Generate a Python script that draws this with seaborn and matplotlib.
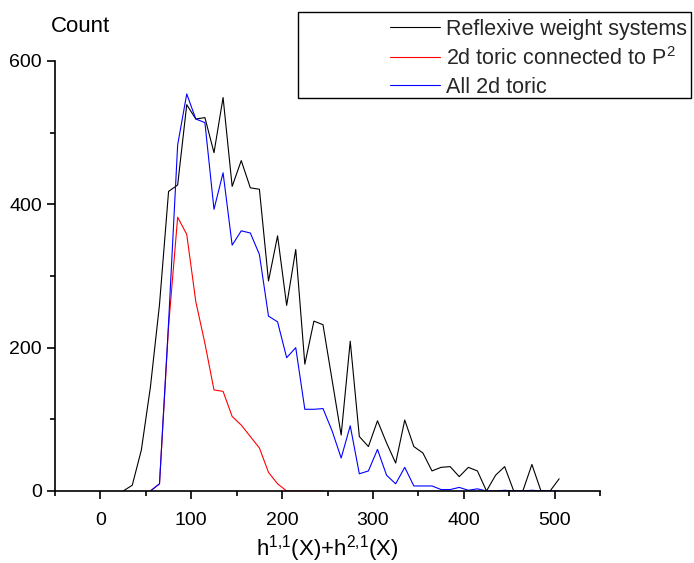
import matplotlib

matplotlib.use("Agg")
import matplotlib.pyplot as plt
from matplotlib.lines import Line2D
from matplotlib.patches import Rectangle
from matplotlib.ticker import MultipleLocator
import pandas as pd
import seaborn as sns

# bin centres of h11+h21 (width 10)
BINS = [25, 35, 45, 55, 65, 75, 85, 95, 105, 115,
        125, 135, 145, 155, 165, 175, 185, 195, 205, 215,
        225, 235, 245, 255, 265, 275, 285, 295, 305, 315,
        325, 335, 345, 355, 365, 375, 385, 395, 405, 415,
        425, 435, 445, 455, 465, 475, 485, 495, 505]

REFLEXIVE = [0, 8, 57, 145, 260, 418, 427, 539, 519, 521,
             472, 549, 425, 461, 423, 421, 293, 356, 259, 337,
             177, 237, 232, 155, 78, 209, 76, 62, 98, 67,
             39, 99, 62, 53, 28, 33, 34, 20, 33, 28,
             0, 22, 34, 0, 0, 37, 0, 0, 17]

# starts at 55, ends at 245
TORIC_P2 = [0, 10, 230, 382, 358, 264, 206, 141, 139, 104,
            92, 76, 60, 26, 10, 0, 0, 0, 0, 0]

# starts at 55, ends at 505
TORIC_ALL = [0, 10, 235, 483, 554, 519, 514, 393, 444, 343,
             363, 360, 330, 244, 236, 186, 200, 114, 114, 115,
             84, 46, 91, 24, 28, 58, 22, 10, 33, 7,
             7, 7, 2, 2, 5, 1, 3, 0, 0, 1,
             0, 0, 1, 0, 0, 0]

LABELS = ["Reflexive weight systems",
          r"2d toric connected to P$^\mathregular{2}$",
          "All 2d toric"]
COLORS = ["#000000", "#ff0000", "#0000ff"]

sns.set_theme(style="ticks")
plt.rcParams["font.family"] = ["Liberation Sans", "DejaVu Sans"]
plt.rcParams["mathtext.fontset"] = "custom"
plt.rcParams["mathtext.rm"] = "Liberation Sans"
plt.rcParams["mathtext.it"] = "Liberation Sans"

df = pd.concat([
    pd.DataFrame({"x": BINS, "count": REFLEXIVE, "set": LABELS[0]}),
    pd.DataFrame({"x": BINS[3:3 + len(TORIC_P2)], "count": TORIC_P2, "set": LABELS[1]}),
    pd.DataFrame({"x": BINS[3:], "count": TORIC_ALL, "set": LABELS[2]}),
])

fig = plt.figure(figsize=(6.94, 5.63), dpi=100)
ax = fig.add_axes([0.0793, 0.1279, 0.7853, 0.7638])

sns.lineplot(data=df, x="x", y="count", hue="set", hue_order=LABELS,
             palette=COLORS, linewidth=0.8, legend=False, ax=ax)

ax.set_xlim(-50, 550)
ax.set_ylim(0, 600)
ax.xaxis.set_major_locator(MultipleLocator(100))
ax.xaxis.set_minor_locator(MultipleLocator(50))
ax.yaxis.set_major_locator(MultipleLocator(200))
ax.yaxis.set_minor_locator(MultipleLocator(100))
sns.despine(ax=ax)
for side in ("left", "bottom"):
    ax.spines[side].set_linewidth(1.2)
    ax.spines[side].set_color("black")
ax.tick_params(which="major", direction="out", length=6, width=1.2,
               color="black", labelsize=14, labelcolor="black")
ax.tick_params(which="minor", direction="out", length=3.5, width=1.2,
               color="black")
ax.tick_params(axis="x", which="major", pad=9)
ax.set_xlabel(r"$\mathregular{h^{1{,}1}(X){+}h^{2{,}1}(X)}$", fontsize=16,
              color="black", labelpad=3)
ax.set_ylabel("")
fig.text(80 / 694, 1 - 27 / 563, "Count", fontsize=16, ha="center",
         va="center", color="black")

# legend frame, drawn wider than the entries as in the original
fig.patches.append(Rectangle((0.4294, 0.8259), 0.5663, 0.1528,
                             transform=fig.transFigure, fill=False,
                             edgecolor="black", linewidth=1.0))
handles = [Line2D([], [], color=c, linewidth=0.8) for c in COLORS]
fig.legend(handles, LABELS, loc="upper left",
           bbox_to_anchor=(390 / 694, 1 - 19 / 563), frameon=False,
           fontsize=15.5, handlelength=2.3, handletextpad=0.3,
           borderpad=0, borderaxespad=0, labelspacing=0.32)

fig.savefig("out.png", dpi=100)
plt.close(fig)
